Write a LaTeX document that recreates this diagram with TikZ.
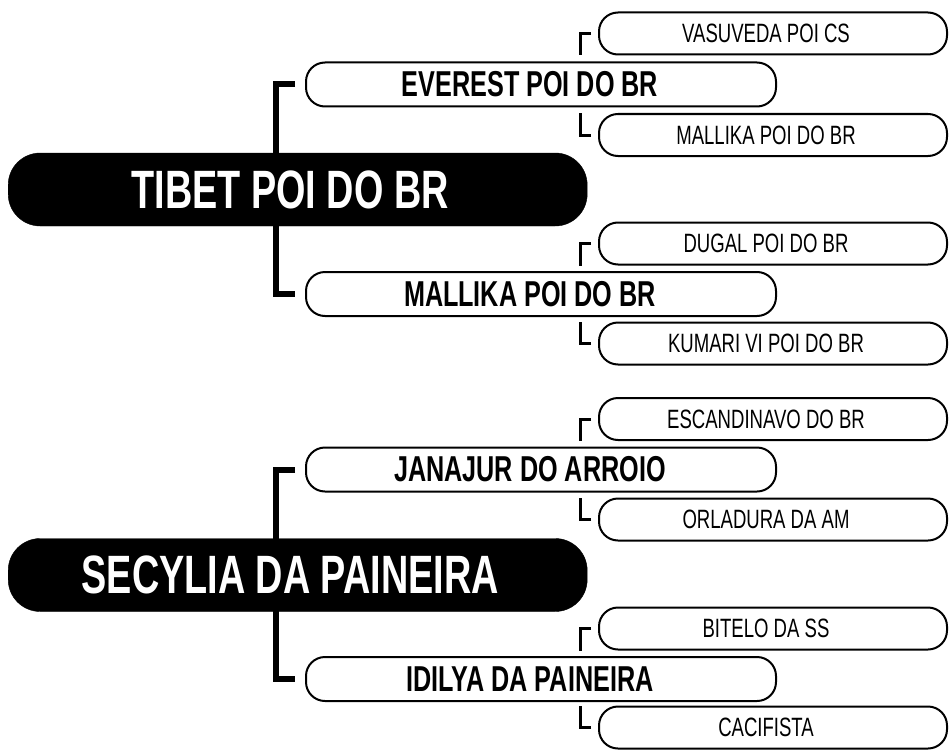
\documentclass[tikz,border=0pt]{standalone}
\usepackage{fontspec}
\setmainfont{Liberation Sans}[FakeStretch=0.7]
\begin{document}
\begin{tikzpicture}[x=1pt,y=-1pt,
  rootbox/.style={draw=black,fill=black,text=white,rounded corners=32pt,
    minimum width=579pt,minimum height=73pt,inner sep=0pt,anchor=west,
    font=\fontsize{54}{60}\selectfont\bfseries},
  midbox/.style={draw=black,fill=white,line width=2pt,rounded corners=19pt,
    minimum width=470pt,minimum height=44pt,inner sep=0pt,anchor=west,
    font=\fontsize{36}{40}\selectfont\bfseries},
  leafbox/.style={draw=black,fill=white,line width=2pt,rounded corners=19pt,
    minimum width=348pt,minimum height=42pt,inner sep=0pt,anchor=west,
    font=\fontsize{26.5}{30}\selectfont},
  lone/.style={draw=black,line width=6pt},
  ltwo/.style={draw=black,line width=3pt}]
\useasboundingbox (0,0) rectangle (949,749);

% ---------- group 1 ----------
\node[midbox] (ga) at (305,84.5) {EVEREST POI DO BR\kern22pt};
\node[midbox] (gb) at (305,294) {MALLIKA POI DO BR\kern22pt};
\node[leafbox] (ga1) at (598,33.5) {VASUVEDA POI CS\kern14pt};
\node[leafbox] (ga2) at (598,135) {MALLIKA POI DO BR\kern14pt};
\node[leafbox] (gb1) at (598,243.5) {DUGAL POI DO BR\kern14pt};
\node[leafbox] (gb2) at (598,343.5) {KUMARI VI POI DO BR\kern14pt};

\draw[lone] ([xshift=-10pt]ga.west) -- ([xshift=-29pt]ga.west) |- ([xshift=-10pt]gb.west);
\node[rootbox] (g) at (8,189.5) {TIBET POI DO BR\kern15pt};

\draw[ltwo] ([xshift=-7pt]ga1.west) -| ([xshift=-18pt]ga1.south west);
\draw[ltwo] ([xshift=-7pt]ga2.west) -| ([xshift=-18pt]ga2.north west);
\draw[ltwo] ([xshift=-7pt]gb1.west) -| ([xshift=-18pt]gb1.south west);
\draw[ltwo] ([xshift=-7pt]gb2.west) -| ([xshift=-18pt]gb2.north west);

% ---------- group 2 ----------
\node[midbox] (ha) at (305,469.5) {JANAJUR DO ARROIO\kern22pt};
\node[midbox] (hb) at (305,679) {IDILYA DA PAINEIRA\kern22pt};
\node[leafbox] (ha1) at (598,419) {ESCANDINAVO DO BR\kern14pt};
\node[leafbox] (ha2) at (598,519.5) {ORLADURA DA AM\kern14pt};
\node[leafbox] (hb1) at (598,628.5) {BITELO DA SS\kern14pt};
\node[leafbox] (hb2) at (598,727.5) {CACIFISTA\kern14pt};

\draw[lone] ([xshift=-10pt]ha.west) -- ([xshift=-29pt]ha.west) |- ([xshift=-10pt]hb.west);
\node[rootbox] (h) at (8,575) {SECYLIA DA PAINEIRA\kern15pt};

\draw[ltwo] ([xshift=-7pt]ha1.west) -| ([xshift=-18pt]ha1.south west);
\draw[ltwo] ([xshift=-7pt]ha2.west) -| ([xshift=-18pt]ha2.north west);
\draw[ltwo] ([xshift=-7pt]hb1.west) -| ([xshift=-18pt]hb1.south west);
\draw[ltwo] ([xshift=-7pt]hb2.west) -| ([xshift=-18pt]hb2.north west);
\end{tikzpicture}
\end{document}
